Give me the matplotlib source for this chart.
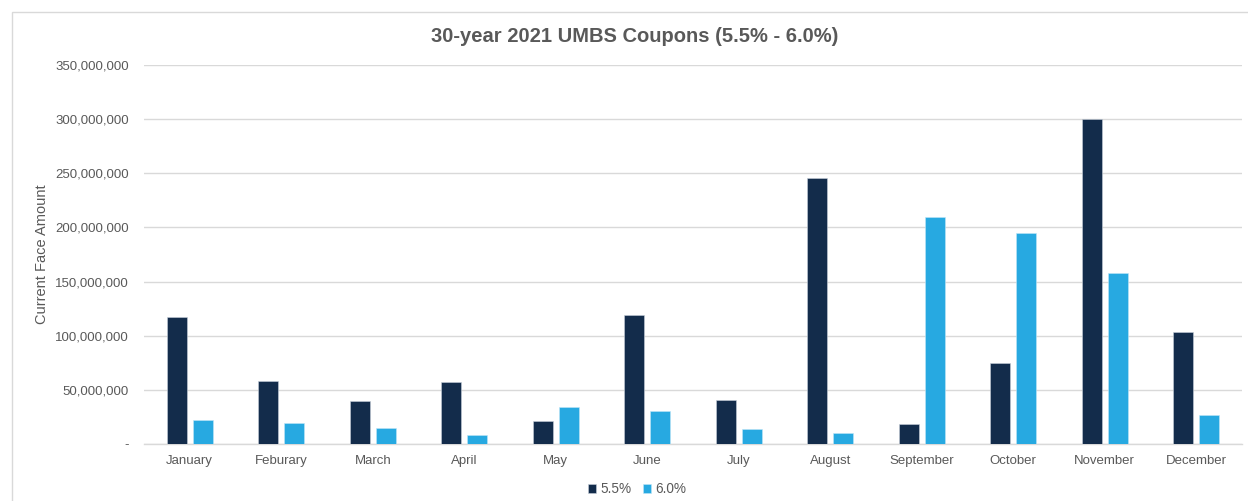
import matplotlib
matplotlib.use("Agg")
import matplotlib.pyplot as plt
import numpy as np
from matplotlib.ticker import FuncFormatter
from matplotlib.patches import Rectangle

months = ["January", "Feburary", "March", "April", "May", "June", "July",
          "August", "September", "October", "November", "December"]
coupon_55 = [117.5e6, 58.5e6, 40e6, 57e6, 21e6, 119.5e6, 40.5e6,
             245.5e6, 18.5e6, 74.5e6, 300e6, 103.5e6]
coupon_60 = [22e6, 19e6, 14.5e6, 8e6, 34e6, 30.5e6, 14e6,
             10.5e6, 210e6, 195e6, 157.5e6, 26.5e6]
series_labels = ["5.5%", "6.0%"]
yticks = [0, 50e6, 100e6, 150e6, 200e6, 250e6, 300e6, 350e6]

plt.rcParams['font.family'] = ['Liberation Sans', 'DejaVu Sans']
text_color = "#595959"
dark = "#132C4B"
light = "#27A9E1"

fig = plt.figure(figsize=(12.48, 5.01), dpi=100)
W, H = 1248, 501
ax = fig.add_axes([144 / W, 1 - 444 / H, (1242 - 144) / W, (444 - 65) / H])

x = np.arange(len(months))
bw = 0.22
off = 0.142
ax.bar(x - off, coupon_55, bw, color=dark, edgecolor="#c8d0da", linewidth=0.4,
       label=series_labels[0], zorder=3)
ax.bar(x + off, coupon_60, bw, color=light, edgecolor="#bfe6f7", linewidth=0.4,
       label=series_labels[1], zorder=3)

ax.set_xlim(-0.5, len(months) - 0.5)
ax.set_ylim(0, 350e6)
ax.set_yticks(yticks)
ax.yaxis.set_major_formatter(FuncFormatter(lambda v, p: "-" if v == 0 else f"{int(v):,}"))
ax.set_xticks(x)
ax.set_xticklabels(months)
ax.grid(axis="y", color="#d9d9d9", linewidth=1, zorder=0)
for s in ["top", "right", "left"]:
    ax.spines[s].set_visible(False)
ax.spines["bottom"].set_color("#d9d9d9")
ax.spines["bottom"].set_linewidth(1)
ax.tick_params(axis="both", length=0, colors=text_color, labelsize=9.5)
ax.tick_params(axis="y", pad=11)
ax.tick_params(axis="x", pad=8)

ax.set_ylabel("Current Face Amount", color=text_color, fontsize=10.5)
ax.yaxis.set_label_coords((49 - 144) / 1098, 0.5)

fig.text(635 / W, 1 - 36 / H, "30-year 2021 UMBS Coupons (5.5% - 6.0%)",
         ha="center", va="center", fontsize=14.5, fontweight="bold", color=text_color)

leg = fig.legend(loc="center", bbox_to_anchor=(637 / W, 1 - 489 / H), ncol=2,
                 frameon=False, fontsize=9.8, handlelength=0.6, handleheight=0.6,
                 handletextpad=0.3, columnspacing=0.8)
for t in leg.get_texts():
    t.set_color(text_color)

border = Rectangle((11.5 / W, -0.01), (1248 - 11) / W, 1 - 11.5 / H + 0.01,
                   transform=fig.transFigure, fill=False, edgecolor="#d9d9d9",
                   linewidth=1)
fig.patches.append(border)

fig.savefig("out.png", dpi=100)
